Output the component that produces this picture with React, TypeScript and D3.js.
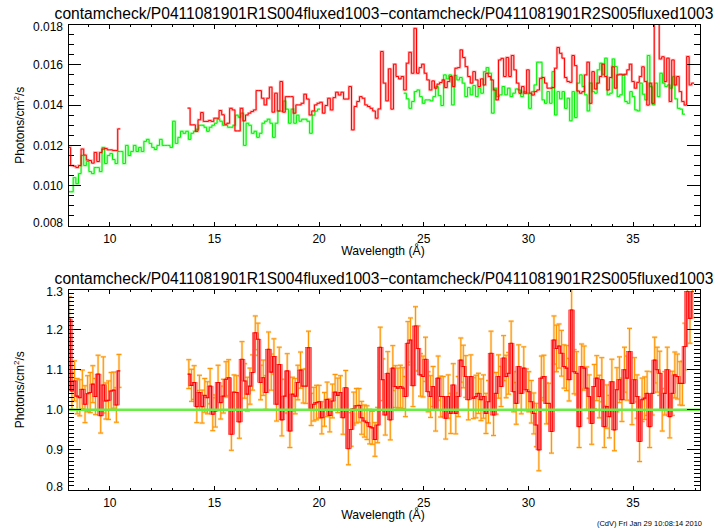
import React from 'react';
import * as d3 from 'd3';

// ---------- text ----------
const TITLE = 'contamcheck/P0411081901R1S004fluxed1003\u2212contamcheck/P0411081901R2S005fluxed1003';
const X_LABEL = 'Wavelength (\u00C5)';
const FOOTER = '(CdV) Fri Jan 29 10:08:14 2010';

// ---------- axes ----------
const xDomain = [8, 38.2];
const xTicks = [10, 15, 20, 25, 30, 35];
const topYDomain = [0.008, 0.018];
const topYTicks = [0.008, 0.01, 0.012, 0.014, 0.016, 0.018];
const botYDomain = [0.8, 1.3];
const botYTicks = [0.8, 0.9, 1.0, 1.1, 1.2, 1.3];

// ---------- top panel: R1 (red) fluxed spectrum, wavelength ranges [lo, hi] ----------
const redA_range = [8.0, 10.5];
const redA = [0.0119, 0.0110, 0.01097, 0.0109, 0.0110, 0.01182, 0.01152, 0.01128, 0.01125, 0.01112,
  0.01165, 0.0112, 0.01165, 0.01182, 0.01185, 0.01178, 0.01178, 0.01175, 0.01175, 0.01282];

const redB1_range = [13.71, 15.47];
const redB1 = [0.01385, 0.01302, 0.01302, 0.0127, 0.01327, 0.01363, 0.01319, 0.01319, 0.01324, 0.01319,
  0.01335, 0.01335, 0.01373, 0.01352];

const redB2_range = [15.47, 22.94];
const redB2 = [0.01305, 0.0131, 0.01384, 0.01376, 0.01272, 0.01272, 0.01384, 0.01322, 0.01351, 0.0136,
  0.01368, 0.01376, 0.01472, 0.01472, 0.01434, 0.01401, 0.01434, 0.01489, 0.01365, 0.01459,
  0.01371, 0.01517, 0.01365, 0.01442, 0.01442, 0.01442, 0.0136, 0.01401, 0.01401, 0.01409,
  0.01454, 0.0143, 0.01351, 0.01371, 0.01401, 0.01409, 0.01414, 0.0136, 0.01398, 0.01434,
  0.01376, 0.01437, 0.01464, 0.0145, 0.01464, 0.0143, 0.0143, 0.01492, 0.01277, 0.01393,
  0.01418, 0.01442, 0.01434, 0.01401, 0.01393, 0.01384, 0.01371, 0.01335, 0.01381];

const redB3_range = [22.94, 30.65];
const redB3 = [0.01666, 0.01509, 0.01421, 0.0158, 0.0138, 0.01603, 0.01542, 0.0153, 0.01542, 0.01475,
  0.01608, 0.01662, 0.01558, 0.01781, 0.01558, 0.01586, 0.01603, 0.01558, 0.01525, 0.01475,
  0.0152, 0.01484, 0.01504, 0.01512, 0.01525, 0.01487, 0.01517, 0.01542, 0.01492, 0.01583,
  0.01586, 0.01674, 0.01636, 0.01591, 0.01542, 0.01509, 0.01566, 0.01525, 0.01492, 0.0153,
  0.015, 0.01558, 0.01542, 0.01525, 0.01475, 0.01426, 0.01624, 0.01632, 0.01542, 0.01636,
  0.01542, 0.01646, 0.01575, 0.01509, 0.01459, 0.01492, 0.01459, 0.01575, 0.01459, 0.0145,
  0.01467, 0.01475, 0.01533];

const redB4_range = [30.65, 37.92];
const redB4 = [0.01537, 0.01509, 0.01484, 0.01484, 0.01487, 0.01583, 0.01686, 0.01657, 0.01633, 0.01537,
  0.01517, 0.01513, 0.01646, 0.01596, 0.0147, 0.01459, 0.01467, 0.0155, 0.01613, 0.01409,
  0.01566, 0.0148, 0.01509, 0.01542, 0.01603, 0.01542, 0.01475, 0.01537, 0.0159, 0.01484,
  0.0155, 0.01553, 0.0155, 0.01553, 0.01575, 0.01603, 0.01517, 0.01484, 0.01513, 0.01542,
  0.0159, 0.01517, 0.014, 0.01509, 0.01409, 0.0182, 0.0182, 0.01629, 0.0164, 0.01517,
  0.01633, 0.01418, 0.01624, 0.015, 0.01542, 0.01467, 0.01418, 0.014, 0.01641, 0.015, 0.01509];

// ---------- top panel: R2 (green) fluxed spectrum ----------
const greenA1_range = [8.0, 15.5];
const greenA1 = [0.0097, 0.0097, 0.0104, 0.0101, 0.0106, 0.0115, 0.011, 0.0112, 0.0107, 0.0106,
  0.0109, 0.0109, 0.0107, 0.0119, 0.0111, 0.0115, 0.0116, 0.0113, 0.0111, 0.0117,
  0.0117, 0.0111, 0.012, 0.0115, 0.0117, 0.012, 0.0117, 0.0119, 0.0117, 0.0122,
  0.0123, 0.0121, 0.0119, 0.0118, 0.012, 0.0123, 0.012, 0.012, 0.012, 0.0119,
  0.0132, 0.0121, 0.0124, 0.0127, 0.0126, 0.0127, 0.0123, 0.0126, 0.0127, 0.0128,
  0.013, 0.013, 0.0129, 0.0127, 0.0129, 0.013, 0.0131, 0.0133, 0.0132, 0.013];

const greenA2_range = [15.5, 20.05];
const greenA2 = [0.013, 0.0129, 0.0129, 0.013, 0.0135, 0.0134, 0.0136, 0.012, 0.0131, 0.013,
  0.0126, 0.0127, 0.0124, 0.0126, 0.0131, 0.0132, 0.0133, 0.0131, 0.0124, 0.0131,
  0.0137, 0.0137, 0.0142, 0.0138, 0.0131, 0.0138, 0.0131, 0.0135, 0.0132, 0.0133,
  0.0133, 0.0132, 0.0126, 0.0135, 0.0137, 0.0138];

const greenB1_range = [24.04, 30.65];
const greenB1 = [0.01459, 0.01431, 0.01384, 0.01418, 0.01467, 0.01475, 0.01442, 0.01409, 0.01426, 0.01426,
  0.01421, 0.01442, 0.01492, 0.01447, 0.01398, 0.0155, 0.0153, 0.0155, 0.01401, 0.01547,
  0.01525, 0.01537, 0.01509, 0.01442, 0.01487, 0.01451, 0.01497, 0.01442, 0.01484, 0.01459,
  0.01566, 0.01586, 0.01558, 0.0136, 0.01484, 0.01442, 0.01451, 0.01492, 0.01451, 0.01484,
  0.01442, 0.01459, 0.0148, 0.01475, 0.01442, 0.01467, 0.01459, 0.01384, 0.01467, 0.015,
  0.01613, 0.01613];

const greenB2_range = [30.65, 37.48];
const greenB2 = [0.01426, 0.01409, 0.01467, 0.01409, 0.01566, 0.01351, 0.01467, 0.01431, 0.01467, 0.01384,
  0.01434, 0.01322, 0.01467, 0.01338, 0.01509, 0.0155, 0.01492, 0.01451, 0.01371, 0.01509,
  0.01467, 0.01459, 0.01575, 0.01608, 0.01553, 0.01633, 0.01451, 0.01459, 0.01629, 0.01591,
  0.01442, 0.01451, 0.0155, 0.01418, 0.01409, 0.01467, 0.01442, 0.01376, 0.01371, 0.01509,
  0.01454, 0.01426, 0.01646, 0.01492, 0.01401, 0.01509, 0.01442, 0.01558, 0.01509, 0.01492,
  0.015, 0.01484, 0.01541, 0.01431, 0.01384, 0.0138, 0.01355];

// ---------- bottom panel: ratio R1/R2 with errors ----------
const ratioA_range = [8.0, 10.5];
const ratioA = [1.226, 1.047, 1.072, 1.034, 1.03, 1.051, 1.014, 1.04, 1.043, 1.064,
  1.033, 1.089, 0.985, 1.062, 1.022, 1.024, 1.047, 1.049, 1.012, 1.097];
const ratioAErr = [0.056, 0.046, 0.05, 0.044, 0.045, 0.048, 0.046, 0.045, 0.05, 0.046,
  0.045, 0.047, 0.043, 0.07, 0.045, 0.048, 0.046, 0.045, 0.043, 0.041];

const ratioB1_range = [13.71, 22.86];
const ratioB1 = [1.089, 1.061, 1.068, 1.008, 1.043, 1.008, 1.036, 1.03, 1.059, 0.989,
  0.997, 1.068, 1.018, 1.034, 1.076, 1.08, 0.939, 1.044, 1.043, 0.97,
  1.126, 1.072, 1.039, 1.059, 1.093, 1.192, 1.176, 1.068, 1.08, 1.043,
  1.151, 1.094, 1.133, 1.014, 1.113, 0.975, 1.034, 1.097, 0.947, 1.039,
  1.034, 1.068, 1.099, 1.059, 1.059, 1.155, 1.001, 1.014, 1.018, 1.02,
  0.98, 1.001, 1.026, 0.986, 1.022, 1.044, 1.036, 1.043, 0.98, 1.055,
  0.903, 0.951, 1.003, 1.01, 1.011, 0.98, 0.972, 0.968, 0.958, 0.955,
  0.926, 0.962];
const ratioB1Err = [0.036, 0.04, 0.042, 0.04, 0.043, 0.041, 0.042, 0.04, 0.044, 0.041,
  0.04, 0.043, 0.041, 0.042, 0.044, 0.045, 0.04, 0.043, 0.042, 0.041,
  0.044, 0.043, 0.042, 0.045, 0.044, 0.042, 0.04, 0.043, 0.044, 0.042,
  0.043, 0.045, 0.044, 0.042, 0.043, 0.04, 0.042, 0.043, 0.041, 0.042,
  0.044, 0.043, 0.045, 0.042, 0.043, 0.041, 0.04, 0.042, 0.043, 0.041,
  0.04, 0.042, 0.043, 0.041, 0.042, 0.044, 0.043, 0.042, 0.041, 0.043,
  0.04, 0.042, 0.041, 0.043, 0.042, 0.041, 0.04, 0.042, 0.043, 0.041,
  0.042, 0.044];

const ratioB2_range = [22.86, 37.9];
const ratioB2 = [1.156, 1.075, 0.987, 1.091, 0.975, 1.104, 1.058, 1.054, 1.058, 1.054,
  1.033, 1.166, 1.174, 1.06, 1.209, 1.153, 1.087, 1.083, 1.126, 1.045,
  1.033, 1.058, 1.0, 1.079, 1.033, 1.033, 0.979, 1.033, 0.991, 1.062,
  0.991, 1.033, 1.124, 1.108, 1.083, 1.025, 1.083, 1.029, 1.033, 1.041,
  1.025, 1.033, 0.991, 1.02, 1.141, 0.987, 1.041, 1.083, 1.058, 1.129,
  1.083, 1.091, 1.166, 1.045, 1.016, 1.108, 1.041, 1.104, 1.05, 1.045,
  1.02, 0.991, 0.962, 0.9, 1.079, 1.083, 1.016, 1.016, 0.946, 1.174,
  1.153, 1.159, 1.141, 1.108, 1.104, 1.075, 1.249, 1.095, 1.091, 0.958,
  1.108, 1.104, 1.054, 1.033, 0.966, 1.058, 1.079, 1.033, 1.075, 0.958,
  1.008, 0.983, 1.07, 0.95, 1.05, 1.075, 1.025, 1.1, 1.079, 1.145,
  1.016, 1.075, 1.033, 0.921, 1.025, 1.029, 1.041, 0.958, 1.041, 1.124,
  1.1, 1.091, 1.0, 1.041, 1.1, 0.983, 1.041, 1.087, 1.083, 1.066,
  1.066, 1.158, 1.295, 1.228, 1.295];
const ratioB2Err = [0.05, 0.052, 0.05, 0.054, 0.05, 0.056, 0.052, 0.05, 0.053, 0.051,
  0.05, 0.054, 0.055, 0.052, 0.048, 0.056, 0.053, 0.051, 0.055, 0.05,
  0.052, 0.05, 0.053, 0.055, 0.051, 0.05, 0.052, 0.054, 0.05, 0.053,
  0.051, 0.05, 0.055, 0.053, 0.052, 0.05, 0.054, 0.051, 0.053, 0.05,
  0.052, 0.054, 0.05, 0.053, 0.055, 0.051, 0.052, 0.054, 0.05, 0.056,
  0.053, 0.052, 0.055, 0.05, 0.052, 0.054, 0.051, 0.053, 0.052, 0.05,
  0.053, 0.051, 0.054, 0.052, 0.055, 0.053, 0.051, 0.05, 0.054, 0.06,
  0.058, 0.055, 0.057, 0.054, 0.056, 0.053, 0.058, 0.055, 0.054, 0.052,
  0.056, 0.055, 0.053, 0.054, 0.052, 0.055, 0.056, 0.053, 0.055, 0.052,
  0.054, 0.053, 0.056, 0.052, 0.055, 0.057, 0.054, 0.056, 0.055, 0.058,
  0.053, 0.055, 0.054, 0.05, 0.054, 0.053, 0.055, 0.052, 0.054, 0.057,
  0.056, 0.055, 0.053, 0.054, 0.056, 0.053, 0.055, 0.057, 0.056, 0.054,
  0.055, 0.058, 0.06, 0.062, 0.065];

// ---------- series assembly ----------
type Piece = { range: number[]; values: number[]; errs?: number[] };
type Bin = { x0: number; x1: number; v: number; e: number };

const redRuns: Piece[][] = [
  [{ range: redA_range, values: redA }],
  [
    { range: redB1_range, values: redB1 },
    { range: redB2_range, values: redB2 },
    { range: redB3_range, values: redB3 },
    { range: redB4_range, values: redB4 },
  ],
];
const greenRuns: Piece[][] = [
  [
    { range: greenA1_range, values: greenA1 },
    { range: greenA2_range, values: greenA2 },
  ],
  [
    { range: greenB1_range, values: greenB1 },
    { range: greenB2_range, values: greenB2 },
  ],
];
const ratioRuns: Piece[][] = [
  [{ range: ratioA_range, values: ratioA, errs: ratioAErr }],
  [
    { range: ratioB1_range, values: ratioB1, errs: ratioB1Err },
    { range: ratioB2_range, values: ratioB2, errs: ratioB2Err },
  ],
];

function runBins(run: Piece[]): Bin[] {
  const out: Bin[] = [];
  run.forEach((p) => {
    const [lo, hi] = p.range;
    const w = (hi - lo) / p.values.length;
    p.values.forEach((v, i) => {
      out.push({ x0: lo + i * w, x1: lo + (i + 1) * w, v, e: p.errs ? p.errs[i] : 0 });
    });
  });
  return out;
}

// ---------- layout ----------
const W = 719;
const H = 531;
const PL = 68;
const PR = 700;
const TOP = { t: 24.5, b: 226 };
const BOT = { t: 289.5, b: 490 };
const FONT = '"Liberation Sans", Arial, Helvetica, sans-serif';

const x = d3.scaleLinear().domain(xDomain).range([PL, PR]);
const yTop = d3.scaleLinear().domain(topYDomain).range([TOP.b, TOP.t]);
const yBot = d3.scaleLinear().domain(botYDomain).range([BOT.b, BOT.t]);

function stepPath(bins: Bin[], y: d3.ScaleLinear<number, number>) {
  const pts: [number, number][] = [];
  bins.forEach((b) => {
    pts.push([b.x0, b.v]);
    pts.push([b.x1, b.v]);
  });
  return d3
    .line<[number, number]>()
    .x((d) => x(d[0]))
    .y((d) => y(d[1]))(pts) as string;
}

function Axes({ y, box, yTicks, yMinorStep, fmt }: any) {
  const xMajLen = 0.02 * (box.b - box.t);
  const yMajLen = 0.02 * (PR - PL);
  const xMinor = d3.range(8, 38.01, 1).filter((v) => !xTicks.includes(v));
  const [y0, y1] = y.domain();
  const nMinor = Math.round((y1 - y0) / yMinorStep);
  const yMinor = d3.range(0, nMinor + 1).map((i) => y0 + i * yMinorStep);
  const lines: any[] = [];
  xMinor.forEach((v, i) => {
    const px = x(v);
    lines.push(<line key={'xmb' + i} x1={px} x2={px} y1={box.b} y2={box.b - xMajLen / 2} />);
    lines.push(<line key={'xmt' + i} x1={px} x2={px} y1={box.t} y2={box.t + xMajLen / 2} />);
  });
  xTicks.forEach((v, i) => {
    const px = x(v);
    lines.push(<line key={'xb' + i} x1={px} x2={px} y1={box.b} y2={box.b - xMajLen} />);
    lines.push(<line key={'xt' + i} x1={px} x2={px} y1={box.t} y2={box.t + xMajLen} />);
  });
  yMinor.forEach((v, i) => {
    const py = y(v);
    lines.push(<line key={'yml' + i} x1={PL} x2={PL + yMajLen / 2} y1={py} y2={py} />);
    lines.push(<line key={'ymr' + i} x1={PR} x2={PR - yMajLen / 2} y1={py} y2={py} />);
  });
  yTicks.forEach((v: number, i: number) => {
    const py = y(v);
    lines.push(<line key={'yl' + i} x1={PL} x2={PL + yMajLen} y1={py} y2={py} />);
    lines.push(<line key={'yr' + i} x1={PR} x2={PR - yMajLen} y1={py} y2={py} />);
  });
  return (
    <g>
      <g stroke="#000" strokeWidth={1} shapeRendering="crispEdges">
        {lines}
        <rect x={PL} y={box.t} width={PR - PL} height={box.b - box.t} fill="none" />
      </g>
      <g fontFamily={FONT} fontSize={12} fill="#000">
        {xTicks.map((v) => (
          <text key={'xl' + v} x={x(v)} y={box.b + 16.5} textAnchor="middle">
            {v}
          </text>
        ))}
        {yTicks.map((v: number, i: number) => {
          const shift = i === 0 ? -3.5 : i === yTicks.length - 1 ? 2.5 : 0;
          return (
            <text key={'yl' + v} x={PL - 5} y={y(v) + 4.3 + shift} textAnchor="end">
              {fmt(v)}
            </text>
          );
        })}
      </g>
      <text x={383} y={box.b + 28.5} textAnchor="middle" fontFamily={FONT} fontSize={12.2}>
        {X_LABEL}
      </text>
      <text
        transform={`translate(24,${(box.t + box.b) / 2}) rotate(-90)`}
        textAnchor="middle"
        fontFamily={FONT}
        fontSize={12}
      >
        Photons/cm
        <tspan fontSize={8} dy={-5}>
          2
        </tspan>
        <tspan dy={5}>/s</tspan>
      </text>
      <text x={384} y={box.t - 6} textAnchor="middle" fontFamily={FONT} fontSize={15.6}>
        {TITLE}
      </text>
    </g>
  );
}

export default function App() {
  const redBins = redRuns.map(runBins);
  const greenBins = greenRuns.map(runBins);
  const ratioBins = ratioRuns.map(runBins);

  const pinkBars: any[] = [];
  ratioBins.forEach((bins, r) => {
    for (let i = 0; i < bins.length - 1; i++) {
      const a = bins[i].v;
      const b = bins[i + 1].v;
      const yTopPx = yBot(Math.max(a, b));
      const yBotPx = yBot(Math.min(a, b));
      if (yBotPx - yTopPx < 0.5) continue;
      pinkBars.push(
        <rect
          key={`pb${r}-${i}`}
          x={x(bins[i].x1) - 1.6}
          y={yTopPx}
          width={3.2}
          height={yBotPx - yTopPx}
          fill="#ff9a9a"
          stroke="#ff3030"
          strokeWidth={0.6}
        />
      );
    }
  });

  return (
    <svg
      width={W}
      height={H}
      style={{ position: 'absolute', left: 0, top: 0, background: '#fff' }}
      xmlns="http://www.w3.org/2000/svg"
    >
      <defs>
        <clipPath id="clipTop">
          <rect x={PL} y={TOP.t} width={PR - PL} height={TOP.b - TOP.t} />
        </clipPath>
        <clipPath id="clipBot">
          <rect x={PL} y={BOT.t} width={PR - PL} height={BOT.b - BOT.t} />
        </clipPath>
      </defs>
      <rect x={0} y={0} width={W} height={H} fill="#fff" />

      {/* top panel */}
      <g clipPath="url(#clipTop)" fill="none" strokeLinejoin="miter">
        {greenBins.map((b, i) => (
          <path key={'gh' + i} d={stepPath(b, yTop)} stroke="#00ff00" strokeOpacity={0.3} strokeWidth={2.4} />
        ))}
        {greenBins.map((b, i) => (
          <path key={'g' + i} d={stepPath(b, yTop)} stroke="#00ee00" strokeWidth={1} />
        ))}
        {redBins.map((b, i) => (
          <path key={'rh' + i} d={stepPath(b, yTop)} stroke="#ff0000" strokeOpacity={0.3} strokeWidth={2.4} />
        ))}
        {redBins.map((b, i) => (
          <path key={'r' + i} d={stepPath(b, yTop)} stroke="#ff0000" strokeWidth={1} />
        ))}
      </g>
      <Axes y={yTop} box={TOP} yTicks={topYTicks} yMinorStep={0.0005} fmt={(v: number) => v.toFixed(3)} />

      {/* bottom panel */}
      <g clipPath="url(#clipBot)">
        <g fill="none">
          {ratioBins.flat().map((b, i) => {
            const cx = x((b.x0 + b.x1) / 2);
            const y1 = yBot(b.v + b.e);
            const y2 = yBot(b.v - b.e);
            const d = `M${cx},${y1}V${y2}M${cx - 2.5},${y1}H${cx + 2.5}M${cx - 2.5},${y2}H${cx + 2.5}`;
            return (
              <g key={'e' + i}>
                <path d={d} stroke="#ffa520" strokeOpacity={0.4} strokeWidth={2.4} />
                <path d={d} stroke="#ff9400" strokeWidth={1} />
              </g>
            );
          })}
        </g>
        {pinkBars}
        <g fill="none">
          {ratioBins.map((b, i) => (
            <path key={'rr' + i} d={stepPath(b, yBot)} stroke="#ff0000" strokeWidth={1.1} />
          ))}
        </g>
        <line x1={PL} x2={PR} y1={yBot(1)} y2={yBot(1)} stroke="#66ee44" strokeWidth={2.4} />
      </g>
      <Axes y={yBot} box={BOT} yTicks={botYTicks} yMinorStep={0.01} fmt={(v: number) => v.toFixed(1)} />

      <text x={702} y={526} textAnchor="end" fontFamily={FONT} fontSize={7.5} fill="#000">
        {FOOTER}
      </text>
    </svg>
  );
}
